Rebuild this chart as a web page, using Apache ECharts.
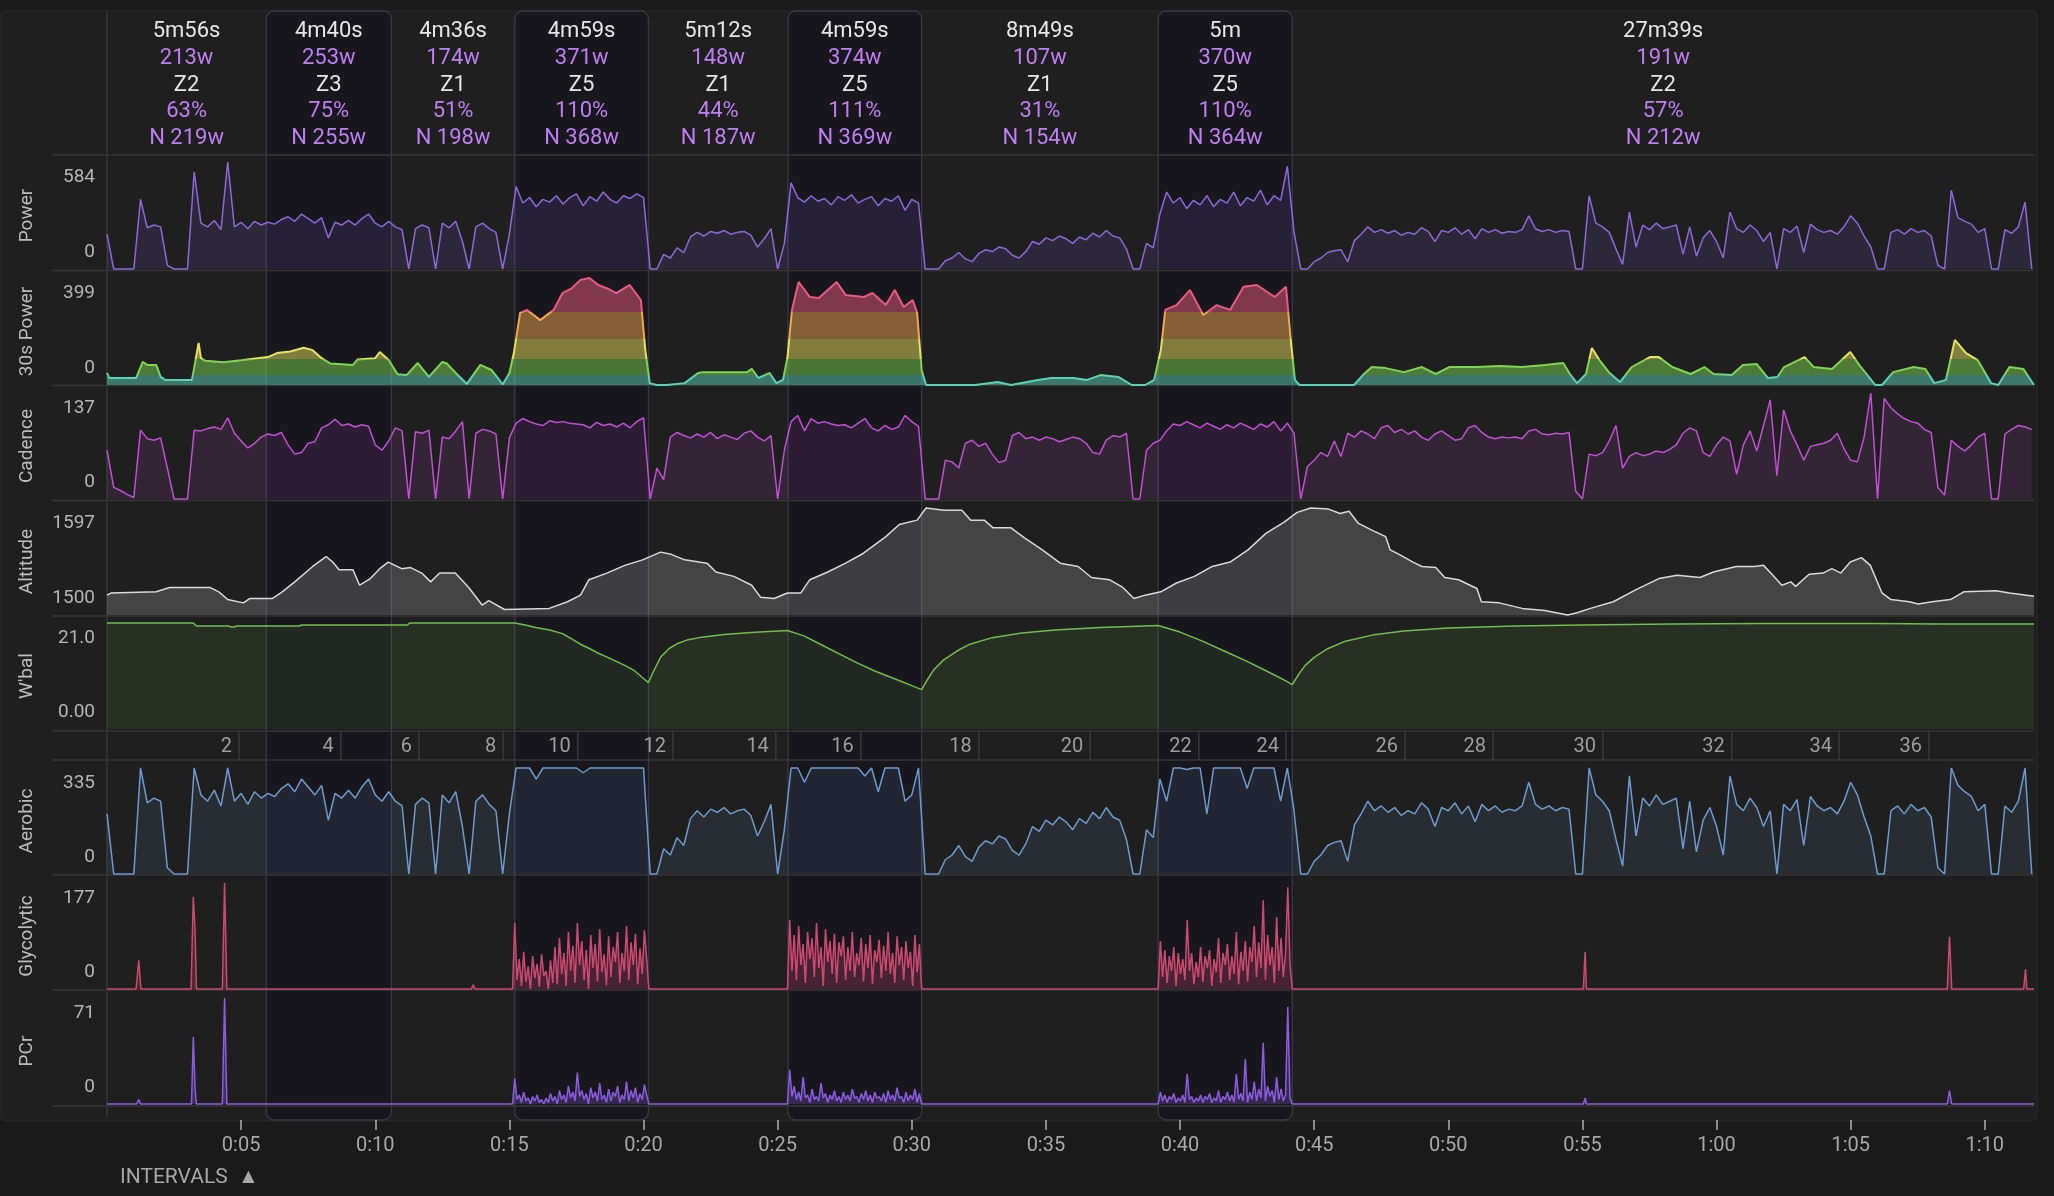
<!DOCTYPE html>
<html><head><meta charset="utf-8">
<script src="https://cdn.jsdelivr.net/npm/echarts@6/dist/echarts.min.js"></script>
<style>html,body{margin:0;padding:0;background:#1a1a1a;}#c{width:2054px;height:1196px;}</style>
</head><body><div id="c"></div>
<script>
// ---------------- DATA ----------------
const intervalSecs = [356,280,276,299,312,299,529,300,1659];
const intervalHighlight = [0,1,0,1,0,1,0,1,0];
const durLabels = ['5m56s','4m40s','4m36s','4m59s','5m12s','4m59s','8m49s','5m','27m39s'];
const wattLabels = [213,253,174,371,148,374,107,370,191];
const zoneLabels = ['Z2','Z3','Z1','Z5','Z1','Z5','Z1','Z5','Z2'];
const pctLabels = [63,75,51,110,44,111,31,110,57];
const normLabels = [219,255,198,368,187,369,154,364,212];

const lapKm = [2,4,6,8,10,12,14,16,18,20,22,24,26,28,30,32,34,36];
const lapTimes = [295,523,698,886,1053,1266,1496,1686,1950,2199,2442,2637,2903,3100,3346,3634,3874,4075];

const timeTicks = [300,600,900,1200,1500,1800,2100,2400,2700,3000,3300,3600,3900,4200];

const powerTicks = [0,584];
const power30Ticks = [0,399];
const cadenceTicks = [0,137];
const altitudeTicks = [1500,1597];
const wbalTicks = [0,21.0];
const wbalTickLabels = ['0.00','21.0'];
const aerobicTicks = [0,335];
const glycoTicks = [0,177];
const pcrTicks = [0,71];

const zoneBounds = [37,97,172,272];

const STEP = 15; // seconds between samples of power / cadence / aerobic
const power = [
190,0,0,0,0,380,225,240,230,20,
0,0,0,530,250,230,265,215,584,230,
255,220,260,240,255,245,270,285,260,300,
275,250,280,170,255,240,265,240,275,300,
250,230,260,230,215,0,220,240,225,0,
250,225,260,150,0,230,250,220,200,0,
190,450,360,390,340,380,365,400,355,390,
410,345,395,370,420,380,360,400,385,410,
390,0,0,80,60,115,90,175,200,180,
205,195,210,190,200,205,185,120,165,220,
0,140,470,390,365,400,370,385,350,395,
375,405,360,380,395,345,385,370,400,320,
380,360,0,0,0,45,60,90,55,40,
85,105,95,120,110,75,60,95,150,135,
170,155,180,165,140,175,160,195,175,210,
180,170,110,0,0,140,115,300,420,360,
390,330,375,350,400,340,380,360,420,345,
390,370,430,350,400,375,560,200,0,0,
40,60,90,100,105,40,155,190,230,200,
215,195,210,185,200,190,225,205,150,210,
200,225,190,215,165,220,200,215,195,205,
200,215,290,220,205,215,200,210,205,0,
0,400,250,230,200,110,25,310,120,240,
215,250,220,230,240,80,230,70,170,210,
150,60,310,220,200,240,210,150,200,0,
220,200,235,90,245,215,200,210,190,230,
290,250,180,120,0,0,200,215,190,220,
200,210,180,20,0,430,280,260,245,200,
220,0,0,215,195,230,365,0];

const aerobic = [
190,0,0,0,0,335,225,240,230,20,
0,0,0,335,250,230,265,215,335,230,
255,220,260,240,255,245,270,285,260,300,
275,250,280,170,255,240,265,240,275,300,
250,230,260,230,215,0,220,240,225,0,
250,225,260,150,0,230,250,220,200,0,
190,335,335,335,300,335,335,335,335,335,
335,320,335,335,335,335,335,335,335,335,
335,0,0,80,60,115,90,175,200,180,
205,195,210,190,200,205,185,120,165,220,
0,140,335,335,290,335,335,335,335,335,
335,335,335,310,335,260,335,335,335,230,
250,335,0,0,0,45,60,90,55,40,
85,105,95,120,110,75,60,95,150,135,
170,155,180,165,140,175,160,195,175,210,
180,170,110,0,0,140,115,300,230,335,
335,330,335,335,190,335,335,335,335,335,
270,335,335,335,335,230,335,200,0,0,
40,60,90,100,105,40,155,190,230,200,
215,195,210,185,200,190,225,205,150,210,
200,225,190,215,165,220,200,215,195,205,
200,215,290,220,205,215,200,210,205,0,
0,335,250,230,200,110,25,310,120,240,
215,250,220,230,240,80,230,70,170,210,
150,60,310,220,200,240,210,150,200,0,
220,200,235,90,245,215,200,210,190,230,
290,250,180,120,0,0,200,215,190,220,
200,210,180,20,0,335,280,260,245,200,
220,0,0,215,195,230,335,0];

const cadence = [
63,15,11,6,2,89,78,76,79,40,
0,0,0,89,88,91,93,90,105,85,
75,66,72,80,84,82,86,70,58,60,
72,74,92,96,103,95,97,93,96,94,
70,63,75,92,88,0,87,85,89,0,
80,78,88,100,0,85,90,88,84,0,
79,98,104,100,97,95,101,99,100,98,
97,96,92,99,95,97,93,98,92,100,
105,0,40,25,80,86,82,79,84,80,
86,78,83,80,77,85,88,80,75,82,
0,63,100,108,88,104,98,100,97,95,
96,92,98,104,92,88,95,90,93,108,
100,94,0,0,0,50,48,40,72,76,
68,72,58,47,50,82,86,78,80,76,
80,78,74,77,80,78,72,60,58,76,
82,80,85,0,0,63,72,76,88,97,
95,100,96,92,98,94,90,96,92,98,
94,90,97,93,100,88,98,85,0,42,
50,60,55,75,55,85,80,88,84,78,
92,95,86,90,84,88,80,76,84,88,
82,76,78,92,95,86,80,78,80,79,
80,78,88,90,84,83,85,84,86,10,
0,58,56,60,75,95,40,55,60,56,
58,62,60,64,70,85,92,88,60,55,
70,80,75,32,70,88,62,95,128,30,
115,88,70,50,68,70,72,76,85,65,
50,48,80,137,0,130,118,110,104,100,
98,90,86,15,5,76,68,62,70,80,
85,0,0,84,90,95,93,90];

const power30 = [[0,45],[5,26],[65,26],[80,86],[90,75],[110,75],[120,30],[130,19],[190,19],[205,157],[210,100],[220,90],[260,85],[300,92],[360,104],[380,119],[410,125],[440,139],[460,130],[480,100],[500,80],[550,75],[560,95],[600,100],[610,123],[630,93],[650,40],[670,37],[695,82],[720,30],[750,86],[760,80],[780,45],[805,4],[835,75],[860,56],[885,2],[900,45],[910,119],[924,269],[939,280],[969,242],[999,280],[1019,343],[1039,360],[1059,392],[1079,399],[1099,373],[1119,360],[1139,343],[1169,373],[1194,317],[1204,130],[1214,7],[1229,0],[1252,0],[1292,7],[1322,45],[1332,48],[1432,48],[1442,60],[1457,26],[1482,45],[1497,7],[1512,19],[1522,104],[1532,280],[1547,384],[1572,328],[1592,324],[1632,384],[1652,336],[1692,328],[1712,343],[1742,298],[1762,354],[1782,291],[1802,317],[1812,269],[1822,56],[1832,0],[1942,0],[1992,11],[2022,0],[2082,19],[2112,26],[2162,26],[2192,19],[2222,37],[2262,30],[2292,0],[2322,0],[2342,19],[2357,130],[2367,280],[2392,298],[2422,354],[2452,261],[2482,298],[2512,280],[2542,366],[2572,373],[2612,328],[2637,366],[2647,179],[2657,19],[2667,0],[2789,0],[2809,37],[2829,67],[2860,63],[2901,48],[2941,67],[2972,41],[3002,67],[3064,67],[3114,71],[3165,67],[3216,75],[3257,82],[3272,41],[3288,7],[3308,41],[3321,138],[3338,93],[3359,48],[3384,11],[3410,67],[3451,104],[3471,104],[3501,67],[3542,41],[3573,67],[3593,41],[3634,37],[3659,75],[3690,78],[3715,26],[3736,30],[3751,67],[3797,104],[3817,67],[3858,60],[3899,123],[3919,75],[3955,0],[3970,0],[3995,48],[4041,67],[4067,60],[4087,7],[4113,19],[4133,168],[4158,119],[4184,93],[4214,7],[4230,0],[4255,67],[4286,60],[4310,0]];

const altitude = [[0,1518],[10,1520],[110,1521],[140,1525],[230,1525],[250,1521],[270,1514],[305,1511],[320,1515],[370,1515],[389,1520],[420,1530],[460,1544],[490,1553],[505,1548],[519,1541],[550,1541],[565,1527],[589,1533],[610,1542],[629,1548],[659,1542],[679,1543],[704,1538],[724,1530],[744,1538],[779,1538],[809,1525],[839,1509],[854,1513],[889,1505],[989,1506],[1030,1512],[1059,1518],[1078,1532],[1118,1538],[1158,1545],[1198,1550],[1238,1557],[1262,1555],[1292,1550],[1342,1547],[1362,1539],[1402,1535],[1442,1527],[1462,1516],[1492,1515],[1522,1520],[1552,1520],[1572,1532],[1612,1539],[1652,1547],[1692,1556],[1742,1571],[1772,1582],[1812,1586],[1832,1597],[1872,1595],[1912,1595],[1932,1586],[1962,1586],[1982,1579],[2022,1579],[2052,1570],[2092,1559],[2132,1547],[2172,1544],[2202,1534],[2242,1532],[2272,1525],[2297,1515],[2322,1518],[2357,1521],[2392,1529],[2432,1535],[2472,1544],[2512,1548],[2552,1559],[2592,1574],[2632,1584],[2662,1593],[2692,1597],[2732,1596],[2758,1592],[2778,1594],[2799,1583],[2829,1577],[2860,1571],[2870,1559],[2890,1555],[2921,1548],[2941,1544],[2972,1543],[2992,1534],[3023,1532],[3064,1524],[3074,1512],[3114,1511],[3165,1506],[3216,1504],[3267,1500],[3288,1502],[3318,1506],[3369,1512],[3420,1523],[3471,1533],[3512,1536],[3563,1534],[3593,1539],[3644,1544],[3685,1544],[3705,1545],[3726,1536],[3746,1527],[3766,1530],[3777,1526],[3807,1537],[3838,1538],[3858,1542],[3878,1538],[3899,1548],[3924,1552],[3944,1545],[3970,1520],[3990,1514],[4031,1512],[4051,1510],[4082,1512],[4123,1514],[4153,1521],[4225,1522],[4255,1520],[4310,1517]];

const wbal = [[0,21.0],[193,21.0],[200,20.4],[272,20.4],[278,20.2],[285,20.2],[290,20.4],[430,20.4],[435,20.6],[672,20.6],[677,21.0],[912,21.0],[935,20.6],[959,20.1],[990,19.6],[1019,18.9],[1040,17.8],[1059,16.8],[1080,15.9],[1099,15.0],[1120,14.2],[1139,13.4],[1160,12.5],[1179,11.6],[1200,10.0],[1211,9.2],[1220,11.0],[1238,14.2],[1258,16.0],[1278,17.0],[1300,17.7],[1330,18.2],[1380,18.7],[1440,19.1],[1522,19.5],[1560,18.4],[1600,16.6],[1640,14.8],[1680,13.0],[1720,11.4],[1760,10.0],[1800,8.6],[1822,7.8],[1835,9.8],[1850,11.8],[1870,13.6],[1900,15.4],[1930,16.8],[1980,18.1],[2046,19.0],[2120,19.6],[2222,20.1],[2351,20.5],[2400,19.2],[2450,17.4],[2500,15.4],[2550,13.4],[2600,11.2],[2640,9.4],[2651,8.8],[2665,10.8],[2680,12.6],[2700,14.2],[2730,15.9],[2770,17.4],[2830,18.6],[2900,19.4],[3000,20.0],[3150,20.4],[3300,20.6],[3500,20.8],[3700,20.9],[3950,20.9],[4100,20.8],[4310,20.8]];

const BURST_STEP = 5;
const burstStarts = [907,1522,2351];
const glycoBurst1 = [0,110,15,50,5,62,12,38,0,55,18,42,4,58,22,30,0,48,10,70,8,85,25,60,5,95,30,72,10,110,40,80,15,65,0,90,35,75,12,100,28,58,6,88,20,70,45,95,10,60,30,105,15,78,40,92,8,68,25,98,50,0];
const glycoBurst2 = [0,115,30,90,15,105,40,75,10,95,50,85,20,110,35,70,5,100,45,80,25,92,10,78,55,88,15,70,30,95,20,60,40,85,12,75,35,90,8,65,45,82,18,72,30,95,25,60,10,88,40,70,15,80,35,62,5,90,28,75,0];
const glycoBurst3 = [0,80,20,65,10,55,30,70,5,60,25,50,15,115,30,60,8,45,20,70,12,55,35,65,5,50,28,85,10,60,40,75,15,55,25,95,8,62,30,80,12,70,45,105,20,78,35,148,15,90,40,70,10,120,30,85,20,60,170,40,0];
const glycoSpikes = [[65,0],[71,48],[76,0],[188,0],[193,154],[197,98],[200,0],[258,0],[263,177],[268,0],[815,0],[819,7],[823,0],[3302,0],[3306,62],[3309,0],[4116,0],[4121,87],[4126,0],[4287,0],[4291,33],[4294,0]];
const pcrBurst1 = [0,17,3,6,1,8,2,4,0,5,2,6,1,3,0,4,1,7,2,5,0,9,3,6,1,12,4,8,2,21,5,9,3,7,0,11,4,8,2,14,3,6,1,10,2,8,5,12,1,6,3,15,2,9,4,11,1,7,3,13,6,0];
const pcrBurst2 = [0,23,5,12,3,8,2,18,4,6,1,10,3,5,2,14,4,7,1,6,3,9,2,5,1,8,3,6,2,10,4,5,1,7,3,9,2,6,1,8,4,5,2,7,1,9,3,6,2,11,4,5,1,8,2,6,3,10,1,7,0];
const pcrBurst3 = [0,8,2,6,1,5,3,7,1,4,2,6,1,20,3,5,1,4,2,6,1,5,3,7,1,4,2,9,1,5,3,8,2,6,1,20,3,7,2,30,1,8,3,15,2,10,4,41,2,12,5,9,1,18,3,10,2,6,65,4,0];
const pcrSpikes = [[66,0],[71,3],[75,0],[189,0],[193,45],[197,10],[200,0],[258,0],[263,71],[268,0],[3302,0],[3306,4],[3309,0],[4116,0],[4121,9],[4126,0],[4288,0],[4291,1],[4294,0]];

// ---------------- BUILD ----------------
const TOTAL = intervalSecs.reduce((a,b)=>a+b,0);
const starts = []; { let acc = 0; intervalSecs.forEach(d => { starts.push(acc); acc += d; }); }
const stepSeries = arr => arr.map((v,i)=>[i*STEP, v]);
const burstPairs = (start, vals) => vals.map((v,k)=>[start + k*BURST_STEP, v]);
function combine(bursts, spikes) {
  let all = [[0,0],[TOTAL,0]].concat(spikes);
  bursts.forEach((b,i)=>{ all = all.concat(burstPairs(burstStarts[i], b)); });
  all.sort((a,b)=>a[0]-b[0]);
  return all;
}
const glycoData = combine([glycoBurst1,glycoBurst2,glycoBurst3], glycoSpikes);
const pcrData = combine([pcrBurst1,pcrBurst2,pcrBurst3], pcrSpikes);

const FONT = 'Roboto';
const WHITE = '#e6e6e6', PURPLE = '#c07ef2';
const LABEL_COLOR = '#b5b5b5';

// layout
const LEFT = 107, RIGHT = 20;
const gridTop =    [162,278,393,508,623,768,883,998];
const gridHeight = [107,107,106,107,106,106,106,106];
const dividerY = [155,270.5,385.5,500.5,616,731,760,875,990,1106];

const panelNames = ['Power','30s Power','Cadence','Altitude',"W'bal",'Aerobic','Glycolytic','PCr'];
const panelTicks = [powerTicks,power30Ticks,cadenceTicks,altitudeTicks,wbalTicks,aerobicTicks,glycoTicks,pcrTicks];
const panelTickText = [null,null,null,null,wbalTickLabels,null,null,null];
const panelData = [stepSeries(power), power30, stepSeries(cadence), altitude, wbal, stepSeries(aerobic), glycoData, pcrData];
const panelLine = ['#8b69d9',null,'#c24fd4','#d9d9d9','#6fbf4a','#6c9bd2','#cc4a72','#8d5ce0'];
const panelArea = ['rgba(128,96,220,0.2)',null,'rgba(180,70,200,0.2)','rgba(205,205,205,0.31)','rgba(100,170,70,0.18)','rgba(100,140,200,0.18)','rgba(200,70,110,0.38)','rgba(140,92,224,0.38)'];

const grids = [], xAxes = [], yAxes = [], series = [];
panelNames.forEach((name, i) => {
  grids.push({left:LEFT, right:RIGHT, top:gridTop[i], height:gridHeight[i], outerBoundsMode:'none', containLabel:false});
  xAxes.push({type:'value', gridIndex:i, min:0, max:TOTAL, show:false});
  const ticks = panelTicks[i];
  const txt = panelTickText[i];
  yAxes.push({
    type:'value', gridIndex:i, min:ticks[0], max:ticks[1],
    name:name, nameLocation:'middle', nameGap:70, nameRotate:90,
    nameTextStyle:{color:'#bdbdbd', fontSize:19, fontFamily:FONT},
    axisLine:{show:false}, axisTick:{show:false}, splitLine:{show:false},
    axisLabel:{
      customValues: ticks, margin:12, showMinLabel:true, showMaxLabel:true,
      formatter: function(v){
        const k = Math.abs(v - ticks[1]) < 1e-9 ? 1 : 0;
        const s = txt ? txt[k] : String(ticks[k]);
        return k === 1 ? '{hi|' + s + '}' : '{lo|' + s + '}';
      },
      rich:{
        hi:{padding:[30,0,0,0], fontSize:19, color:LABEL_COLOR, fontFamily:FONT},
        lo:{padding:[0,0,33,0], fontSize:19, color:LABEL_COLOR, fontFamily:FONT}
      }
    }
  });
});
// lap grid (index 8)
grids.push({left:LEFT, right:RIGHT, top:731, height:29, outerBoundsMode:'none'});
xAxes.push({type:'value', gridIndex:8, min:0, max:TOTAL, show:false});
yAxes.push({type:'value', gridIndex:8, min:0, max:1, show:false});
// overlay grid (index 9)
grids.push({left:LEFT, right:RIGHT, top:11, height:1109, outerBoundsMode:'none'});
xAxes.push({
  type:'value', gridIndex:9, min:0, max:TOTAL, position:'bottom',
  axisLine:{show:false}, splitLine:{show:false},
  axisTick:{show:true, length:10, customValues:timeTicks, lineStyle:{color:'#b0b0b0', width:1.5}},
  axisLabel:{customValues:timeTicks, margin:16, color:'#a8a8a8', fontSize:20, fontFamily:FONT,
    formatter: v => Math.floor(v/3600) + ':' + String(Math.floor((v%3600)/60)).padStart(2,'0')}
});
yAxes.push({type:'value', gridIndex:9, min:0, max:1, show:false});

// overlay custom series: interval highlight + header texts
series.push({
  type:'custom', xAxisIndex:9, yAxisIndex:9, z:-5, silent:true,
  data: intervalSecs.map((d,i)=>[starts[i], starts[i]+d, i, 0]),
  encode:{x:[0,1], y:3},
  renderItem: function(params, api){
    const i = api.value(2);
    const x0 = api.coord([api.value(0),0])[0];
    const x1 = api.coord([api.value(1),0])[0];
    const cs = params.coordSys;
    const cx = (x0+x1)/2;
    const children = [];
    if (intervalHighlight[i]) {
      children.push({type:'rect', shape:{x:x0, y:cs.y, width:x1-x0, height:cs.height, r:8},
        style:{fill:'#18171d', stroke:'#3a3846', lineWidth:1.3}});
    }
    const lines = [[durLabels[i],WHITE],[wattLabels[i]+'w',PURPLE],[zoneLabels[i],WHITE],[pctLabels[i]+'%',PURPLE],['N '+normLabels[i]+'w',PURPLE]];
    lines.forEach((l,k)=>{
      children.push({type:'text', style:{text:l[0], x:cx, y:cs.y+20.5+k*26.8, align:'center', verticalAlign:'middle',
        textAlign:'center', textVerticalAlign:'middle', fill:l[1], font:'22px ' + FONT}});
    });
    return {type:'group', children:children};
  }
});
// lap markers
series.push({
  type:'custom', xAxisIndex:8, yAxisIndex:8, z:3, silent:true,
  data: lapTimes.map((t,i)=>[t, lapKm[i], 0]),
  encode:{x:0, y:2},
  renderItem: function(params, api){
    const x = api.coord([api.value(0),0])[0];
    const cs = params.coordSys;
    return {type:'group', children:[
      {type:'line', shape:{x1:x, y1:cs.y, x2:x, y2:cs.y+cs.height}, style:{stroke:'#3d3d3d', lineWidth:1.3}},
      {type:'text', style:{text:String(api.value(1)), x:x-7, y:cs.y+cs.height/2+1.5, align:'right', verticalAlign:'middle',
        textAlign:'right', textVerticalAlign:'middle', fill:'#9d9d9d', font:'20px ' + FONT}}
    ]};
  }
});
// data lines
panelNames.forEach((name,i)=>{
  const s = {
    type:'line', name:name, xAxisIndex:i, yAxisIndex:i, data:panelData[i],
    showSymbol:false, symbol:'none', clip:false, z:3, silent:true, animation:false,
    lineStyle:{width:1.5}, areaStyle:{}
  };
  if (panelLine[i]) { s.lineStyle.color = panelLine[i]; s.itemStyle = {color:panelLine[i]}; s.areaStyle = {color:panelArea[i]}; }
  else { s.lineStyle.width = 2; s.areaStyle = {opacity:0.5}; }
  series.push(s);
});

const graphics = [
  {type:'rect', z:-20, silent:true, shape:{x:0, y:11, width:2037, height:1110, r:6}, style:{fill:'#1f1f1f', stroke:'#2b2b2b', lineWidth:1}},
  {type:'line', z:0, silent:true, shape:{x1:107, y1:11, x2:107, y2:1118}, style:{stroke:'#363636', lineWidth:1.5}},
  {type:'text', z:0, silent:true, left:120, top:1167, style:{text:'INTERVALS  ▲', fill:'#a8a8a8', font:'21px ' + FONT}}
];
dividerY.forEach(y => graphics.push({type:'line', z:0, silent:true, shape:{x1:52, y1:y, x2:2034, y2:y}, style:{stroke:'#363636', lineWidth:1.5}}));

const chart = echarts.init(document.getElementById('c'), null, {renderer:'canvas'});
chart.setOption({
  backgroundColor:'#1a1a1a',
  animation:false,
  textStyle:{fontFamily:FONT},
  grid:grids, xAxis:xAxes, yAxis:yAxes,
  visualMap:[{
    type:'piecewise', show:false, seriesIndex:3, dimension:1,
    pieces:[
      {lt:zoneBounds[0], color:'#5ad2b5'},
      {gte:zoneBounds[0], lt:zoneBounds[1], color:'#7fd451'},
      {gte:zoneBounds[1], lt:zoneBounds[2], color:'#e8e25c'},
      {gte:zoneBounds[2], lt:zoneBounds[3], color:'#f0a84e'},
      {gte:zoneBounds[3], color:'#ea5a82'}
    ]
  }],
  graphic:{elements:graphics},
  series:series
});
</script></body></html>
